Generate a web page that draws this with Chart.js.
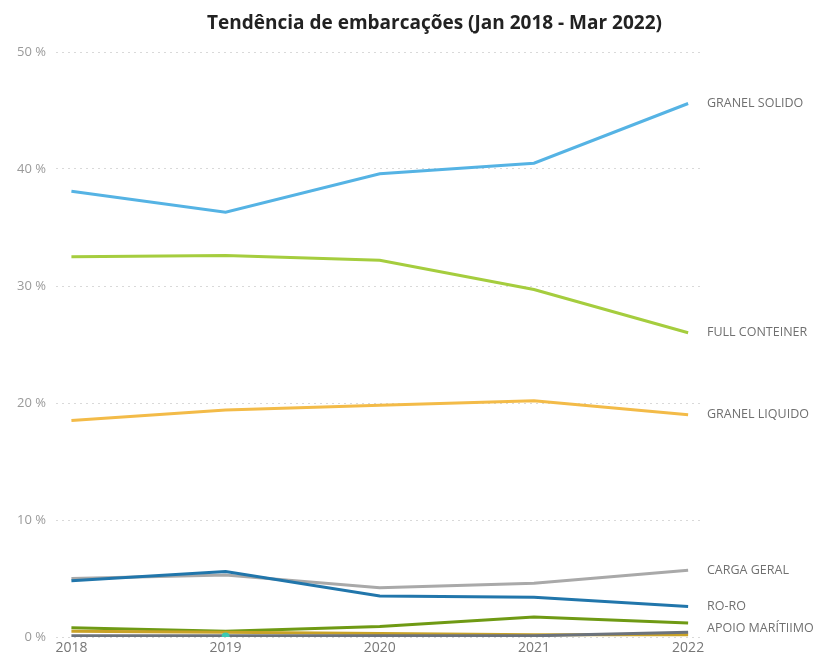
<!DOCTYPE html>
<html>
<head>
<meta charset="utf-8">
<script src="https://cdn.jsdelivr.net/npm/chart.js@4/dist/chart.umd.min.js"></script>
<style>
  html, body { margin: 0; padding: 0; background: #ffffff; }
  #wrap { width: 837px; height: 663px; position: relative; }
</style>
</head>
<body>
<div id="wrap"><canvas id="chart" width="837" height="663"></canvas></div>
<script>
// Share of vessel calls by cargo type, yearly (%)
const years = [2018, 2019, 2020, 2021, 2022];
const yTicks = [0, 10, 20, 30, 40, 50];
const chartTitle = 'Tendência de embarcações (Jan 2018 - Mar 2022)';

const granelSolido   = [38.1, 36.3, 39.6, 40.5, 45.6];
const fullConteiner  = [32.5, 32.6, 32.2, 29.7, 26.0];
const granelLiquido  = [18.5, 19.4, 19.8, 20.2, 19.0];
const cargaGeral     = [5.0, 5.3, 4.2, 4.6, 5.7];
const roRo           = [4.8, 5.6, 3.5, 3.4, 2.6];
const apoioMaritimo  = [0.8, 0.5, 0.9, 1.7, 1.2];
const outrosA        = [0.5, 0.4, 0.3, 0.2, 0.2];
const outrosB        = [0.1, 0.1, 0.1, 0.1, 0.4];
const outrosC        = [null, 0.05, null, null, null];

const seriesNames = ['GRANEL SOLIDO', 'FULL CONTEINER', 'GRANEL LIQUIDO', 'CARGA GERAL', 'RO-RO', 'APOIO MARÍTIIMO', 'OUTROS A', 'OUTROS B', 'OUTROS C'];
const labelledSeries = ['GRANEL SOLIDO', 'FULL CONTEINER', 'GRANEL LIQUIDO', 'CARGA GERAL', 'RO-RO', 'APOIO MARÍTIIMO'];

const toPoints = arr => years.map((yr, i) => ({ x: yr, y: arr[i] }));

function lineSet(label, values, color, extra) {
  return Object.assign({
    label: label,
    data: toPoints(values),
    borderColor: color,
    backgroundColor: color,
    borderWidth: 3,
    pointRadius: 0,
    tension: 0,
    spanGaps: false
  }, extra || {});
}

const datasets = [
  lineSet(seriesNames[8], outrosC, '#3cc9b2', { pointRadius: 4, borderWidth: 0, showLine: false }),
  lineSet(seriesNames[7], outrosB, '#6c737c'),
  lineSet(seriesNames[6], outrosA, '#c9a227'),
  lineSet(seriesNames[5], apoioMaritimo, '#6f9a14'),
  lineSet(seriesNames[4], roRo, '#2176ab'),
  lineSet(seriesNames[3], cargaGeral, '#a9a9a9'),
  lineSet(seriesNames[2], granelLiquido, '#f3bb48'),
  lineSet(seriesNames[1], fullConteiner, '#a5cd3e'),
  lineSet(seriesNames[0], granelSolido, '#55b3e4')
];

// Heading centred over the plot plus its end labels
const heading = {
  id: 'heading',
  afterDraw(chart) {
    const { ctx, chartArea } = chart;
    ctx.save();
    ctx.font = 'bold 19px "Open Sans", sans-serif';
    ctx.fillStyle = '#222222';
    ctx.textAlign = 'center';
    ctx.textBaseline = 'middle';
    ctx.fillText(chartTitle, (chartArea.left + chart.width) / 2 - 12, chartArea.top - 28);
    ctx.restore();
  }
};

// Series names written at the end of each line, nudged apart when they crowd
const endLabels = {
  id: 'endLabels',
  afterDatasetsDraw(chart) {
    const { ctx, chartArea, scales } = chart;
    const items = chart.data.datasets
      .filter(ds => labelledSeries.includes(ds.label))
      .map(ds => {
        const last = ds.data[ds.data.length - 1];
        return { text: ds.label, y: scales.y.getPixelForValue(last.y) };
      })
      .sort((a, b) => a.y - b.y);
    const minGap = 22;
    for (let i = 1; i < items.length; i++) {
      if (items[i].y - items[i - 1].y < minGap) items[i].y = items[i - 1].y + minGap;
    }
    ctx.save();
    ctx.font = '12.5px "Open Sans", sans-serif';
    ctx.fillStyle = '#707070';
    ctx.textAlign = 'left';
    ctx.textBaseline = 'middle';
    items.forEach(it => ctx.fillText(it.text, chartArea.right + 5, it.y));
    ctx.restore();
  }
};

new Chart(document.getElementById('chart'), {
  type: 'line',
  data: { datasets: datasets },
  options: {
    responsive: false,
    animation: false,
    layout: { padding: { left: 0, right: 135, top: 52, bottom: 0 } },
    plugins: {
      legend: { display: false },
      tooltip: { enabled: false },
      title: { display: false }
    },
    scales: {
      x: {
        type: 'linear',
        min: 2017.9,
        max: 2022.09,
        afterBuildTicks: s => { s.ticks = years.map(v => ({ value: v })); },
        afterFit: s => { s.height = 26; },
        grid: { display: false, drawTicks: false },
        border: { display: false },
        ticks: {
          padding: 3,
          color: '#777777',
          font: { family: '"Open Sans", sans-serif', size: 14 },
          callback: v => String(v)
        }
      },
      y: {
        min: 0,
        max: 50,
        afterBuildTicks: s => { s.ticks = yTicks.map(v => ({ value: v })); },
        afterFit: s => { s.width = 56; },
        grid: { color: '#d9d9d9', lineWidth: 1, borderDash: [2, 4], drawTicks: false },
        border: { display: false, dash: [2, 4] },
        ticks: {
          padding: 10,
          color: '#9a9a9a',
          font: { family: '"Open Sans", sans-serif', size: 13 },
          callback: v => v + ' %'
        }
      }
    }
  },
  plugins: [heading, endLabels]
});
</script>
</body>
</html>
